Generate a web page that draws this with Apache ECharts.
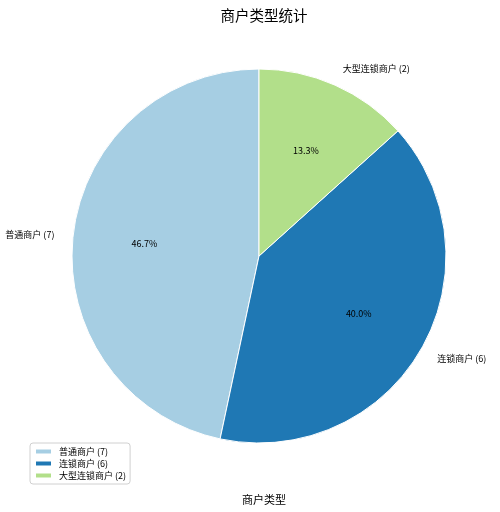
<!DOCTYPE html>
<html><head><meta charset="utf-8">
<script src="https://cdn.jsdelivr.net/npm/echarts@6/dist/echarts.min.js"></script>
<style>html,body{margin:0;padding:0;background:#fff}#c{width:500px;height:512px}</style>
</head><body><div id="c"></div>
<script>
const categories = ['普通商户', '连锁商户', '大型连锁商户'];
const counts = [7, 6, 2];
const colors = ['#a6cee3', '#1f78b4', '#b2df8a'];
const titleText = '商户类型统计';
const xLabelText = '商户类型';

const FONT = '"Noto Sans CJK SC", "DejaVu Sans", sans-serif';
const cx = 259, cy = 256, R = 187;
const names = categories.map((c, i) => c + ' (' + counts[i] + ')');
const pieData = names.map((n, i) => ({ name: n, value: counts[i], itemStyle: { color: colors[i] } }));

const chart = echarts.init(document.getElementById('c'), null, { renderer: 'canvas' });
chart.setOption({
  animation: false,
  backgroundColor: '#fff',
  title: [
    { text: titleText, left: cx, textAlign: 'center', top: 3, textStyle: { fontFamily: FONT, fontSize: 14.5, fontWeight: 'normal', color: '#000' } },
    { text: xLabelText, left: cx, textAlign: 'center', top: 489, textStyle: { fontFamily: FONT, fontSize: 11, fontWeight: 'normal', color: '#000' } }
  ],
  legend: {
    orient: 'vertical', left: 30, top: 443,
    data: names,
    itemWidth: 17, itemHeight: 6, itemGap: 3,
    icon: 'rect',
    padding: [4, 4, 4, 4],
    borderColor: '#d0d0d0', borderWidth: 1, borderRadius: 3,
    backgroundColor: 'rgba(255,255,255,0.8)',
    textStyle: { fontFamily: FONT, fontSize: 9, color: '#000', padding: [0, 0, 0, 2] }
  },
  series: [
    {
      type: 'pie', name: 'main',
      center: [cx, cy], radius: [0, R],
      startAngle: 90, clockwise: false,
      avoidLabelOverlap: false,
      data: pieData,
      itemStyle: { borderColor: '#fff', borderWidth: 1 },
      label: {
        show: true, position: 'outside', formatter: '{b}',
        fontFamily: FONT, fontSize: 9, color: '#000',
        distanceToLabelLine: 0
      },
      labelLine: { show: false, length: R * 0.1, length2: 0 },
      emphasis: { disabled: true },
      silent: true
    },
    {
      type: 'pie', name: 'pct',
      center: [cx, cy], radius: [0, R * 1.2],
      startAngle: 90, clockwise: false,
      avoidLabelOverlap: false,
      percentPrecision: 1,
      data: names.map((n, i) => ({ name: n, value: counts[i], itemStyle: { color: 'rgba(0,0,0,0)' } })),
      itemStyle: { borderWidth: 0 },
      label: {
        show: true, position: 'inside',
        formatter: p => p.percent.toFixed(1) + '%',
        fontFamily: FONT, fontSize: 9, color: '#000'
      },
      labelLine: { show: false },
      emphasis: { disabled: true },
      silent: true,
      z: 3
    }
  ]
});
</script></body></html>
